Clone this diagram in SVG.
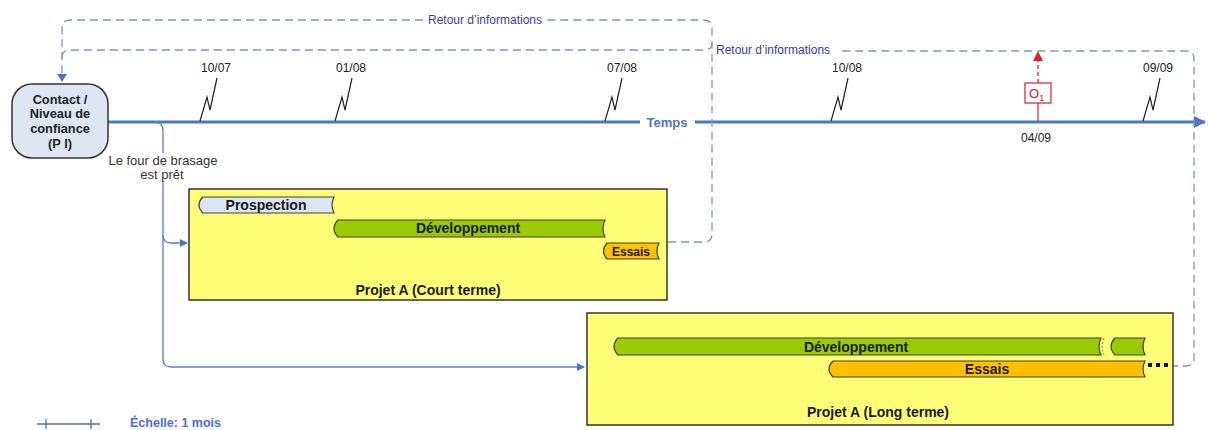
<svg xmlns="http://www.w3.org/2000/svg" width="1208" height="430" viewBox="0 0 1208 430">
<style>
.t{font-family:"Liberation Sans",Arial,sans-serif}
.date{font-size:12px;fill:#222}
.bold{font-weight:bold}
.fb{fill:none;stroke:#8096b4;stroke-width:1.3;stroke-dasharray:8,5}
.ret{font-size:12px;fill:#3a3aa8}
.sq{fill:none;stroke:#222;stroke-width:1.2;stroke-linejoin:miter}
.bar{stroke:#404040;stroke-width:1.2}
.lnk{fill:none;stroke:#5b7fc4;stroke-width:1.3}
.box{fill:#ffff77;stroke:#333;stroke-width:1.5}
.bt{font-size:14px;font-weight:bold;fill:#1a1a1a}
</style>
<defs>
<marker id="ab" markerWidth="8" markerHeight="8" refX="7" refY="4" orient="auto" markerUnits="userSpaceOnUse"><path d="M0,0 L8,4 L0,8 Z" fill="#4a76c8"/></marker>
<marker id="abig" markerWidth="12" markerHeight="12" refX="11" refY="6" orient="auto" markerUnits="userSpaceOnUse"><path d="M0,0 L12,6 L0,12 Z" fill="#4a76c8"/></marker>
<path id="sq" class="sq" d="M0,0 L7,-24 L10,-11 L17,-43"/>
</defs>

<!-- timeline -->
<g id="timeline">
<path d="M108,122 H640" stroke="#4a76c8" stroke-width="3" fill="none"/>
<path d="M695,122 H1205" stroke="#4a76c8" stroke-width="3" fill="none" marker-end="url(#abig)"/>
<text class="t bold" x="667" y="127" font-size="13" fill="#4a76c8" text-anchor="middle">Temps</text>
</g>

<g id="ticks">
<g id="t1007"><use href="#sq" x="200" y="121"/><text class="t date" x="216" y="72" text-anchor="middle">10/07</text></g>
<g id="t0108"><use href="#sq" x="335" y="121"/><text class="t date" x="351" y="72" text-anchor="middle">01/08</text></g>
<g id="t0708"><use href="#sq" x="605" y="121"/><text class="t date" x="622" y="72" text-anchor="middle">07/08</text></g>
<g id="t1008"><use href="#sq" x="831" y="121"/><text class="t date" x="847" y="72" text-anchor="middle">10/08</text></g>
<g id="t0909"><use href="#sq" x="1143" y="121"/><text class="t date" x="1158" y="72" text-anchor="middle">09/09</text></g>
</g>

<g id="o1">
<path d="M1038,121 V103" stroke="#d03040" stroke-width="1.3"/>
<path d="M1038,83 V60" stroke="#e02020" stroke-width="1.3" stroke-dasharray="4,3"/>
<path d="M1033,61 L1038,51 L1043,61 Z" fill="#e02020"/>
<rect x="1025" y="83" width="26" height="20" fill="#fff" stroke="#d03040" stroke-width="1.3"/>
<text class="t" x="1029" y="98" font-size="13" fill="#c02030">O<tspan font-size="9" dy="3">1</tspan></text>
<text class="t date" x="1036" y="142" text-anchor="middle">04/09</text>
</g>

<!-- connectors -->
<g id="connectors">
<path class="fb" d="M668,242 H704 Q712,242 712,234 V28 Q712,20 704,20 H547"/>
<path class="fb" d="M423,20 H70 Q62,20 62,28 V76"/>
<path d="M57,74 L62,82 L67,74 Z" fill="#4a76c8"/>
<text class="t ret" x="485" y="24" text-anchor="middle">Retour d’informations</text>
<path class="fb" d="M1170,366 H1186 Q1194,366 1194,358 V59 Q1194,51 1186,51 H840"/>
<path class="fb" d="M712,43 Q712,50 704,50 H70 Q62,50 62,58"/>
<text class="t ret" x="716" y="54">Retour d’informations</text>
<path class="lnk" d="M155,122 Q163,122 163,131 V235 Q163,243 171,243 H187" marker-end="url(#ab)"/>
<path class="lnk" d="M163,235 V359 Q163,367 171,367 H584" marker-end="url(#ab)"/>
</g>

<g id="node-contact">
<rect x="12" y="84" width="96" height="74" rx="20" ry="20" fill="#dde6f2" stroke="#333" stroke-width="1.5"/>
<text class="t bold" font-size="12.8" fill="#222" text-anchor="middle"><tspan x="60" y="104">Contact /</tspan><tspan x="60" y="118">Niveau de</tspan><tspan x="60" y="133">confiance</tspan><tspan x="60" y="148">(P I)</tspan></text>
</g>

<g id="label-four">
<rect x="106" y="153" width="114" height="28" fill="#fff"/>
<text class="t" font-size="13" fill="#333" text-anchor="middle"><tspan x="163" y="165">Le four de brasage</tspan><tspan x="162" y="179">est prêt</tspan></text>
</g>

<g id="projet-court">
<rect class="box" x="189" y="189" width="478" height="111"/>
<path class="bar" fill="#dde6f2" d="M203,197 H334 Q330,205 334,213 H203 Q195,205 203,197 Z"/>
<text class="t bt" x="266" y="210" text-anchor="middle">Prospection</text>
<path class="bar" fill="#99cc00" d="M338,220 H605 Q601,228.5 605,237 H338 Q330,228.5 338,220 Z"/>
<text class="t bt" x="468" y="233" text-anchor="middle">Développement</text>
<path class="bar" fill="#ffc000" d="M607,243 H659 Q655,251 659,259 H607 Q600,251 607,243 Z"/>
<text class="t bold" x="631" y="255.5" font-size="12" fill="#1a1a1a" text-anchor="middle">Essais</text>
<text class="t bt" x="428" y="295" text-anchor="middle">Projet A (Court terme)</text>
</g>

<g id="projet-long">
<rect class="box" x="587" y="313" width="586" height="112"/>
<path class="bar" fill="#99cc00" d="M618,338 H1101 Q1097,346.5 1101,355 H618 Q610,346.5 618,338 Z"/>
<path d="M1104,338 Q1100,346.5 1104,355" fill="none" stroke="#666" stroke-width="1" stroke-dasharray="2,2"/>
<path class="bar" fill="#99cc00" d="M1115,338 H1145 Q1141,346.5 1145,355 H1115 Q1107,346.5 1115,338 Z"/>
<text class="t bt" x="856" y="351.5" text-anchor="middle">Développement</text>
<path class="bar" fill="#ffc000" d="M833,361 H1145 Q1141,369 1145,377 H833 Q825,369 833,361 Z"/>
<text class="t bt" x="987" y="374" text-anchor="middle">Essais</text>
<rect x="1148" y="363" width="4" height="4" fill="#111"/>
<rect x="1156" y="363" width="4" height="4" fill="#111"/>
<rect x="1164" y="363" width="4" height="4" fill="#111"/>
<text class="t bt" x="878" y="417" text-anchor="middle">Projet A (Long terme)</text>
</g>

<g id="legend">
<path d="M37,424 H100 M46,419 V429 M91,419 V429" stroke="#5a7090" stroke-width="1.3" fill="none"/>
<text class="t bold" x="130" y="427" font-size="12.5" fill="#4a6fd0">Échelle: 1 mois</text>
</g>
</svg>
